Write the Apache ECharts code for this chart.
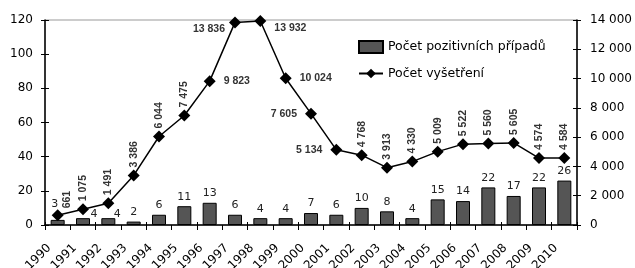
<!DOCTYPE html>
<html><head><meta charset="utf-8">
<script src="https://cdn.jsdelivr.net/npm/echarts@6/dist/echarts.min.js"></script>
<style>html,body{margin:0;padding:0;background:#fff}#c{width:635px;height:268px}</style>
</head><body><div id="c"></div>
<script>
const years = ['1990','1991','1992','1993','1994','1995','1996','1997','1998','1999','2000','2001','2002','2003','2004','2005','2006','2007','2008','2009','2010'];
const tickLabels = years.concat(['']);
const positiveCases = [3,4,4,2,6,11,13,6,4,4,7,6,10,8,4,15,14,22,17,22,26];
const examinations = [661,1075,1491,3386,6044,7475,9823,13836,13932,10024,7605,5134,4768,3913,4330,5009,5522,5560,5605,4574,4584];
const seriesNames = ['Počet pozitivních případů', 'Počet vyšetření'];

// label placement styles (not data)
const lineLabelMode = ['v0','v','v','v','v','v','r','l','r','r','l','l','v','v','v','v','v','v','v','v','v'];
const barLabelOffset = {0: [-3, -6], 1: [11, 5], 2: [9, 5]};

function fmt(v) { return String(v).replace(/\B(?=(\d{3})+(?!\d))/g, ' '); }

const chart = echarts.init(document.getElementById('c'), null, {renderer: 'canvas'});

const lineData = examinations.map((v, i) => {
  const m = lineLabelMode[i];
  let label;
  if (m === 'v' || m === 'v0') {
    label = {position: 'top', distance: 2, rotate: 90, align: 'left', verticalAlign: 'middle'};
    if (m === 'v0') label.offset = [-1, 9];
  } else if (m === 'r') {
    label = {position: 'right', distance: 8};
    if (i === 8) label.offset = [0, 7];
  } else {
    label = {position: 'left', distance: 8};
    if (i === 7) label.offset = [4, 7];
  }
  return {value: v, label: label};
});

const barData = positiveCases.map((v, i) => {
  const d = {value: v};
  if (barLabelOffset[i]) d.label = {offset: barLabelOffset[i]};
  return d;
});

const tickStyle = {color: '#000', width: 1};

chart.setOption({
  animation: false,
  textStyle: {fontFamily: 'DejaVu Sans'},
  grid: {left: 45, right: 58, top: 20, bottom: 43, outerBoundsMode: 'none', containLabel: false, show: true, borderColor: '#999', borderWidth: 1, backgroundColor: 'transparent'},
  legend: {
    orient: 'vertical', left: 358, top: 40, padding: 0, itemWidth: 24, itemHeight: 12, itemGap: 13,
    textStyle: {fontFamily: 'DejaVu Sans', fontSize: 12.5, color: '#000'},
    data: [{name: seriesNames[0], icon: 'rect'}, {name: seriesNames[1]}]
  },
  xAxis: [{
    type: 'category', data: years, boundaryGap: true, position: 'bottom',
    axisLine: {lineStyle: {color: '#000', width: 1.5}},
    axisTick: {show: true, inside: true, length: 3, lineStyle: tickStyle}, axisLabel: {show: false}
  }, {
    type: 'category', data: tickLabels, boundaryGap: false, position: 'bottom',
    axisLine: {show: false},
    axisTick: {show: true, length: 5, lineStyle: tickStyle},
    axisLabel: {rotate: 45, margin: 17, fontSize: 12, color: '#000', fontFamily: 'DejaVu Sans', interval: 0, verticalAlign: 'top'}
  }],
  yAxis: [{
    type: 'value', min: 0, max: 120, interval: 20, position: 'left',
    axisLine: {show: true, lineStyle: {color: '#000', width: 1.5}},
    axisTick: {show: true, length: 4, lineStyle: tickStyle},
    axisLabel: {fontSize: 12, color: '#000', margin: 12},
    splitLine: {show: false}
  }, {
    type: 'value', min: 0, max: 14000, interval: 2000, position: 'right',
    axisLine: {show: true, lineStyle: {color: '#000', width: 1.5}},
    axisTick: {show: true, length: 4, lineStyle: tickStyle},
    axisLabel: {fontSize: 12, color: '#000', margin: 13, formatter: fmt},
    splitLine: {show: false}
  }, {
    type: 'value', min: 0, max: 120, interval: 20, position: 'left', offset: 0,
    axisLine: {show: false},
    axisTick: {show: true, inside: true, length: 4, lineStyle: tickStyle},
    axisLabel: {show: false}, splitLine: {show: false}
  }, {
    type: 'value', min: 0, max: 14000, interval: 2000, position: 'right', offset: 0,
    axisLine: {show: false},
    axisTick: {show: true, inside: true, length: 4, lineStyle: tickStyle},
    axisLabel: {show: false}, splitLine: {show: false}
  }],
  series: [{
    name: seriesNames[0], type: 'bar', xAxisIndex: 0, yAxisIndex: 0,
    data: barData, barWidth: 14,
    itemStyle: {color: '#555555', borderColor: '#000', borderWidth: 1},
    label: {show: true, position: 'top', distance: 4, fontSize: 11, color: '#222', fontFamily: 'DejaVu Sans'},
    z: 2
  }, {
    name: seriesNames[1], type: 'line', xAxisIndex: 0, yAxisIndex: 1,
    data: lineData, symbol: 'diamond', symbolSize: 12,
    lineStyle: {color: '#000', width: 1.5},
    itemStyle: {color: '#000'},
    label: {show: true, fontSize: 10.5, fontWeight: 'bold', color: '#333', fontFamily: 'Liberation Sans', formatter: p => fmt(p.value)},
    z: 3
  }]
});
</script>
</body></html>
